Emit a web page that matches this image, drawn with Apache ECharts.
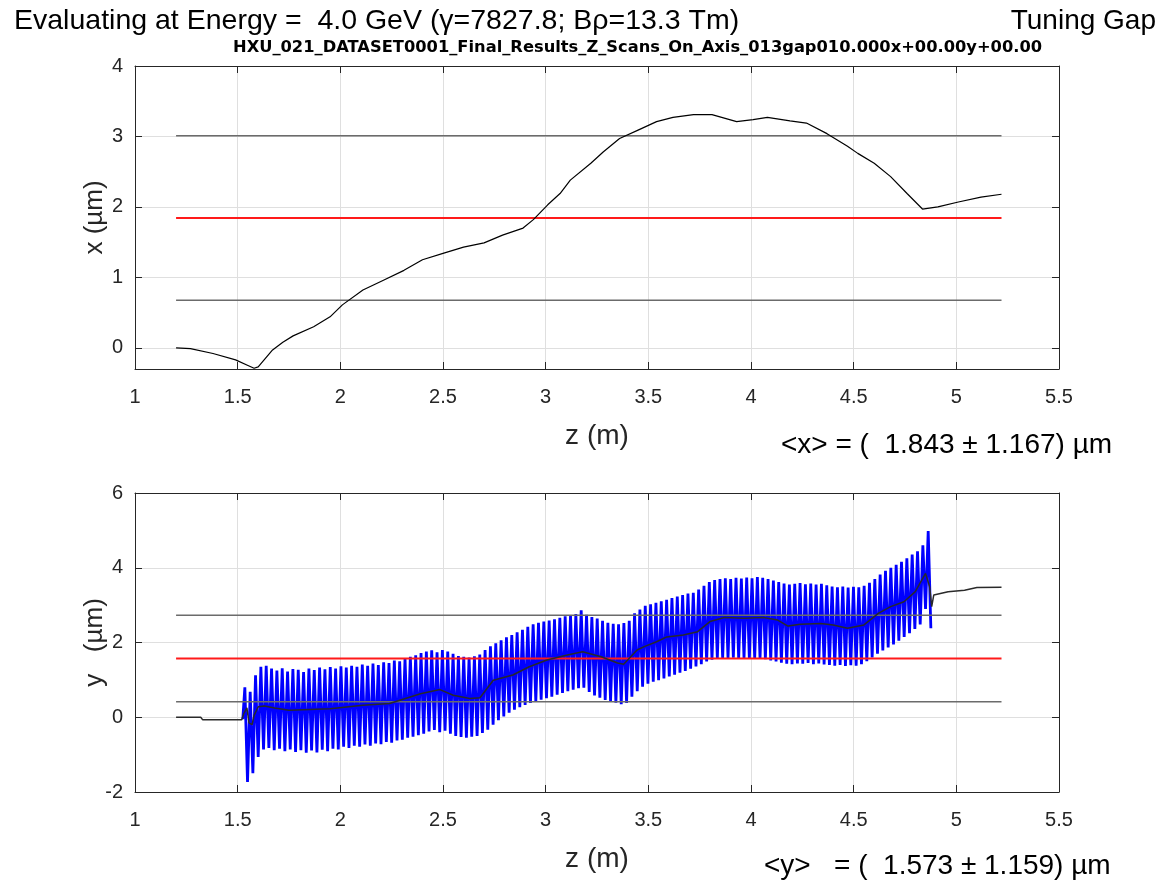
<!DOCTYPE html>
<html><head><meta charset="utf-8">
<script src="https://cdn.jsdelivr.net/npm/echarts@6/dist/echarts.min.js"></script>
<style>html,body{margin:0;padding:0;background:#fff}#c{width:1172px;height:881px}</style>
</head><body><div id="c"></div>
<script>
// ---------------- data ----------------
const zAxisRange = [1, 5.5];
const zTickStep = 0.5;
const xPanelRange = [-0.3, 4];
const xPanelTicks = [0, 1, 2, 3, 4];
const yPanelRange = [-2, 6];
const yPanelTicks = [-2, 0, 2, 4, 6];

// top panel: x trajectory [z (m), x (um)]
const xTraj = [[1.20,0.00],[1.27,-0.01],[1.38,-0.08],[1.49,-0.17],[1.55,-0.25],[1.58,-0.29],[1.60,-0.27],[1.67,-0.03],[1.72,0.08],[1.77,0.17],[1.87,0.30],[1.95,0.44],[2.01,0.61],[2.11,0.82],[2.21,0.96],[2.31,1.10],[2.40,1.25],[2.50,1.34],[2.60,1.43],[2.70,1.49],[2.79,1.60],[2.89,1.70],[2.94,1.82],[3.01,2.03],[3.07,2.19],[3.12,2.38],[3.22,2.62],[3.28,2.78],[3.36,2.97],[3.45,3.09],[3.54,3.21],[3.62,3.27],[3.72,3.31],[3.81,3.31],[3.93,3.21],[4.01,3.24],[4.08,3.27],[4.19,3.22],[4.27,3.19],[4.37,3.04],[4.47,2.86],[4.52,2.76],[4.60,2.62],[4.68,2.43],[4.76,2.19],[4.835,1.97],[4.91,2.00],[5.01,2.07],[5.12,2.14],[5.22,2.18]];
const xMean = 1.843, xStd = 1.167;

// bottom panel: y trajectory, averaged [z, y]
const yAvg = [[1.20,0.00],[1.32,0.00],[1.33,-0.07],[1.52,-0.07],[1.53,0.10],[1.545,0.25],[1.555,-0.15],[1.57,-0.20],[1.58,0.05],[1.60,0.28],[1.63,0.30],[1.68,0.25],[1.75,0.19],[1.85,0.21],[1.95,0.23],[2.11,0.32],[2.24,0.37],[2.39,0.63],[2.485,0.74],[2.55,0.59],[2.63,0.50],[2.68,0.52],[2.745,0.99],[2.84,1.13],[2.92,1.35],[3.006,1.53],[3.10,1.66],[3.18,1.75],[3.27,1.62],[3.35,1.45],[3.38,1.42],[3.445,1.80],[3.48,1.89],[3.54,2.02],[3.59,2.15],[3.67,2.20],[3.74,2.29],[3.80,2.56],[3.87,2.67],[3.965,2.65],[4.06,2.67],[4.13,2.60],[4.18,2.44],[4.24,2.49],[4.34,2.51],[4.40,2.47],[4.47,2.38],[4.55,2.47],[4.62,2.78],[4.68,2.96],[4.745,3.09],[4.80,3.36],[4.85,3.85],[4.87,3.49],[4.88,2.96],[4.89,3.27],[4.96,3.36],[5.04,3.40],[5.10,3.47],[5.22,3.48]];
const yMean = 1.573, yStd = 1.159;

// bottom panel: raw oscillating y, peaks per undulator period
const undulatorPeriod = 0.026;
const oscStartZ = 1.535;
const oscLead = [[1.525,-0.05]];
const yPeakTop = [0.80,0.68,1.12,1.35,1.38,1.30,1.25,1.31,1.22,1.29,
 1.27,1.21,1.30,1.26,1.33,1.28,1.34,1.30,1.36,1.33,
 1.38,1.35,1.41,1.38,1.44,1.40,1.47,1.45,1.52,1.50,
 1.58,1.62,1.66,1.72,1.76,1.79,1.74,1.80,1.76,1.70,
 1.64,1.62,1.60,1.63,1.68,1.80,1.90,1.98,2.06,2.14,
 2.20,2.27,2.34,2.42,2.49,2.53,2.56,2.59,2.62,2.66,
 2.70,2.72,2.76,2.86,2.74,2.68,2.64,2.58,2.53,2.50,
 2.49,2.52,2.58,2.78,2.88,2.98,3.02,3.06,3.10,3.14,
 3.19,3.23,3.27,3.31,3.33,3.42,3.52,3.62,3.67,3.70,
 3.72,3.70,3.73,3.71,3.74,3.72,3.75,3.73,3.70,3.66,
 3.62,3.58,3.55,3.57,3.59,3.56,3.58,3.55,3.57,3.53,
 3.50,3.48,3.50,3.47,3.49,3.48,3.52,3.60,3.70,3.82,
 3.92,4.00,4.08,4.16,4.25,4.35,4.44,4.60,4.98];
const yPeakBot = [-1.73,-1.50,-1.06,-0.86,-0.82,-0.88,-0.84,-0.91,-0.86,-0.93,
 -0.88,-0.95,-0.89,-0.94,-0.87,-0.91,-0.84,-0.86,-0.79,-0.82,
 -0.76,-0.79,-0.73,-0.76,-0.70,-0.72,-0.66,-0.68,-0.62,-0.60,
 -0.55,-0.52,-0.48,-0.44,-0.38,-0.34,-0.40,-0.36,-0.44,-0.50,
 -0.53,-0.55,-0.52,-0.50,-0.42,-0.33,-0.20,-0.08,0.02,0.12,
 0.20,0.27,0.33,0.38,0.42,0.47,0.51,0.55,0.60,0.65,
 0.70,0.74,0.78,0.79,0.68,0.58,0.52,0.46,0.43,0.39,
 0.35,0.38,0.55,0.70,0.82,0.90,0.95,0.99,1.04,1.09,
 1.14,1.19,1.24,1.30,1.36,1.42,1.49,1.54,1.57,1.58,
 1.57,1.59,1.57,1.58,1.56,1.58,1.57,1.55,1.52,1.49,
 1.46,1.43,1.42,1.44,1.43,1.45,1.42,1.44,1.41,1.40,
 1.38,1.40,1.37,1.39,1.38,1.42,1.50,1.60,1.70,1.79,
 1.87,1.95,2.05,2.15,2.25,2.36,2.48,2.90,2.38];

const statSpanZ = [1.2, 5.22];

const titleMain = 'Evaluating at Energy =  4.0 GeV (\u03B3=7827.8; B\u03C1=13.3 Tm)';
const titleRight = 'Tuning Gap';
const titleSub = 'HXU_021_DATASET0001_Final_Results_Z_Scans_On_Axis_013gap010.000x+00.00y+00.00';

// ---------------- build ----------------
const FONT = 'Liberation Sans, Arial, Helvetica, sans-serif';
const AX = '#262626';
const GRIDC = '#dfdfdf';

const oscData = oscLead.slice();
for (let i = 0; i < yPeakTop.length; i++) {
  oscData.push([oscStartZ + i * undulatorPeriod, yPeakTop[i]]);
  if (i < yPeakBot.length) oscData.push([oscStartZ + (i + 0.5) * undulatorPeriod, yPeakBot[i]]);
}
function hline(v) { return [[statSpanZ[0], v], [statSpanZ[1], v]]; }

const grids = [
  {left: 135, right: 113, top: 66, height: 303},
  {left: 135, right: 113, top: 493, height: 299}
];

function xAx(gi, main) {
  return {
    type: 'value', gridIndex: gi, min: zAxisRange[0], max: zAxisRange[1], interval: zTickStep,
    position: main ? 'bottom' : 'top',
    name: main ? 'z (m)' : '', nameLocation: 'middle', nameGap: 53, nameMoveOverlap: false,
    nameTextStyle: {fontFamily: FONT, fontSize: 28, color: AX},
    axisLine: {show: true, onZero: false, lineStyle: {color: AX, width: 1}},
    axisTick: {show: true, inside: true, length: 7, lineStyle: {color: AX}},
    axisLabel: {show: main, margin: 18, fontFamily: FONT, fontSize: 20, color: AX},
    splitLine: {show: main, lineStyle: {color: GRIDC, width: 1}}
  };
}
function yAx(gi, main, range, ticks, name) {
  return {
    type: 'value', gridIndex: gi, min: range[0], max: range[1],
    position: main ? 'left' : 'right',
    name: main ? name : '', nameLocation: 'middle', nameGap: 27, nameRotate: 90, nameMoveOverlap: false,
    nameTextStyle: {fontFamily: FONT, fontSize: 26, color: AX},
    axisLine: {show: true, onZero: false, lineStyle: {color: AX, width: 1}},
    axisTick: {show: true, inside: true, length: 7, customValues: ticks, lineStyle: {color: AX}},
    axisLabel: {show: main, margin: 12, customValues: ticks, fontFamily: FONT, fontSize: 20, color: AX},
    splitLine: {show: main, lineStyle: {color: GRIDC, width: 1}}
  };
}

const option = {
  animation: false,
  backgroundColor: '#fff',
  title: [
    {text: titleMain, left: 9, top: 2, textStyle: {fontFamily: FONT, fontSize: 28.5, fontWeight: 'normal', color: '#000'}},
    {text: titleRight, right: 11, top: 2, textStyle: {fontFamily: FONT, fontSize: 28, fontWeight: 'normal', color: '#000'}},
    {text: titleSub, left: 228, top: 35, textStyle: {fontFamily: 'DejaVu Sans', fontSize: 16.3, fontWeight: 'bold', color: '#000'}},
    {text: '<x> = (  ' + xMean.toFixed(3) + ' \u00B1 ' + xStd.toFixed(3) + ') \u00B5m', left: 776, top: 426, textStyle: {fontFamily: FONT, fontSize: 28, fontWeight: 'normal', color: '#000'}},
    {text: '<y>   = (  ' + yMean.toFixed(3) + ' \u00B1 ' + yStd.toFixed(3) + ') \u00B5m', left: 759, top: 847, textStyle: {fontFamily: FONT, fontSize: 28, fontWeight: 'normal', color: '#000'}}
  ],
  grid: grids,
  xAxis: [xAx(0, true), xAx(0, false), xAx(1, true), xAx(1, false)],
  yAxis: [yAx(0, true, xPanelRange, xPanelTicks, 'x (\u00B5m)'), yAx(0, false, xPanelRange, xPanelTicks),
          yAx(1, true, yPanelRange, yPanelTicks, 'y   (\u00B5m)'), yAx(1, false, yPanelRange, yPanelTicks)],
  series: [
    {type: 'line', xAxisIndex: 0, yAxisIndex: 0, data: xTraj, showSymbol: false, lineStyle: {color: '#000', width: 1.2}, z: 3},
    {type: 'line', xAxisIndex: 0, yAxisIndex: 0, data: hline(xMean - xStd), showSymbol: false, lineStyle: {color: '#6b6b6b', width: 1.5}, z: 2},
    {type: 'line', xAxisIndex: 0, yAxisIndex: 0, data: hline(xMean + xStd), showSymbol: false, lineStyle: {color: '#6b6b6b', width: 1.5}, z: 2},
    {type: 'line', xAxisIndex: 0, yAxisIndex: 0, data: hline(xMean), showSymbol: false, lineStyle: {color: '#ff1a1a', width: 2}, z: 2},

    {type: 'line', xAxisIndex: 2, yAxisIndex: 2, data: oscData, showSymbol: false, lineStyle: {color: '#0000ff', width: 2.8}, z: 2},
    {type: 'line', xAxisIndex: 2, yAxisIndex: 2, data: hline(yMean - yStd), showSymbol: false, lineStyle: {color: '#6b6b6b', width: 1.5}, z: 3},
    {type: 'line', xAxisIndex: 2, yAxisIndex: 2, data: hline(yMean + yStd), showSymbol: false, lineStyle: {color: '#6b6b6b', width: 1.5}, z: 3},
    {type: 'line', xAxisIndex: 2, yAxisIndex: 2, data: hline(yMean), showSymbol: false, lineStyle: {color: '#ff1a1a', width: 2}, z: 3},
    {type: 'line', xAxisIndex: 2, yAxisIndex: 2, data: yAvg, showSymbol: false, lineStyle: {color: '#2a2a2a', width: 1.5}, z: 4}
  ]
};
const chart = echarts.init(document.getElementById('c'), null, {renderer: 'canvas'});
chart.setOption(option);
</script></body></html>
